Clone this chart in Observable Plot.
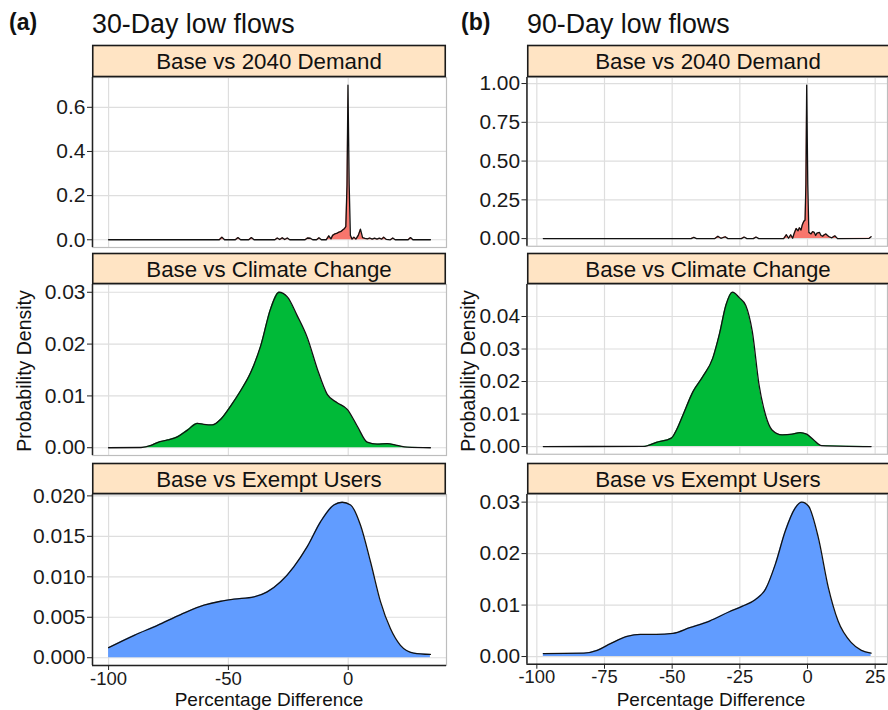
<!DOCTYPE html>
<html>
<head>
<meta charset="utf-8">
<script src="https://cdn.jsdelivr.net/npm/d3@7"></script>
<script src="https://cdn.jsdelivr.net/npm/@observablehq/plot@0.6"></script>
<style>
  html, body { margin: 0; padding: 0; background: #fff; overflow: hidden; }
  #root { position: relative; width: 888px; height: 710px; overflow: hidden; background: #fff;
          font-family: "Liberation Sans", Arial, Helvetica, sans-serif; }
  #root > div.facet { position: absolute; }
  #overlay { position: absolute; left: 0; top: 0; pointer-events: none; }
</style>
</head>
<body>
<div id="root"></div>
<script>
// ---------- data ----------
const panelLetters = ["(a)", "(b)"];
const panelTitles = ["30-Day low flows", "90-Day low flows"];
const facetLabels = ["Base vs 2040 Demand", "Base vs Climate Change", "Base vs Exempt Users"];
const yAxisTitle = "Probability Density";
const xAxisTitle = "Percentage Difference";

const xTicksA = [-100, -50, 0];
const xTicksB = [-100, -75, -50, -25, 0, 25];

const yTicksA1 = [0, 0.2, 0.4, 0.6];
const yTicksA2 = [0, 0.01, 0.02, 0.03];
const yTicksA3 = [0, 0.005, 0.01, 0.015, 0.02];
const yTicksB1 = [0, 0.25, 0.5, 0.75, 1];
const yTicksB2 = [0, 0.01, 0.02, 0.03, 0.04];
const yTicksB3 = [0, 0.01, 0.02, 0.03];

// 30-day, Base vs 2040 Demand  [percentage difference, density]
const d30Demand = [
  [-100, 0], [-53.8, 0], [-52.7, 0.012], [-51.6, 0], [-47.1, 0], [-46, 0.01], [-44.9, 0],
  [-41.5, 0], [-40.4, 0.01], [-39.3, 0], [-30.6, 0], [-29.6, 0.008], [-28.6, 0.001],
  [-27.5, 0.009], [-26.5, 0.001], [-25.4, 0.008], [-24.4, 0], [-18, 0], [-17, 0.008],
  [-15.8, 0.007], [-14.8, 0], [-13.2, 0], [-12.2, 0.009], [-11.2, 0], [-9.2, 0], [-8.1, 0.018],
  [-7.2, 0.004], [-6.5, 0.02], [-5.5, 0.027], [-4.6, 0.03], [-3.8, 0.035], [-3, 0.038],
  [-2.2, 0.045], [-1.6, 0.05], [-1, 0.06], [-0.5, 0.25], [-0.1, 0.70], [0.4, 0.25], [0.9, 0.02],
  [1.6, 0.003], [2.4, 0.012], [3.2, 0.003], [4.2, 0.02], [5.1, 0.048], [6, 0.01], [7, 0.006],
  [8, 0.004], [9, 0.008], [10, 0.003], [11, 0.007], [12, 0.003], [13, 0.007], [14, 0.003],
  [14.8, 0.012], [15.8, 0.002], [17.6, 0], [18.6, 0.008], [19.6, 0], [25, 0], [26, 0.01],
  [27, 0], [34.3, 0]
];
// 30-day, Base vs Climate Change
const d30Climate = [
  [-100, 0], [-86.5, 0.00004], [-82.3, 0.00045], [-79.6, 0.001], [-75.4, 0.0015], [-71.3, 0.0021],
  [-67.1, 0.0034], [-62.9, 0.0047], [-60.2, 0.0045], [-56.7, 0.0044], [-53.2, 0.0055],
  [-49, 0.0081], [-44.9, 0.011], [-40.7, 0.0145], [-36.5, 0.0197], [-32.4, 0.0268],
  [-28.9, 0.0300], [-25.4, 0.0291], [-21.3, 0.0255], [-17.1, 0.0213], [-12.9, 0.0152],
  [-8.75, 0.0103], [-4.6, 0.0087], [-0.4, 0.0074], [3.75, 0.0042], [7.9, 0.0011],
  [12.1, 0.0007], [16.25, 0.0008], [20.4, 0.00045], [24.6, 0.0001], [34.3, 0]
];
// 30-day, Base vs Exempt Users
const d30Exempt = [
  [-100, 0.00124], [-89.3, 0.00277], [-79.6, 0.004], [-69.9, 0.00533], [-60.2, 0.00649],
  [-53.2, 0.00698], [-47.7, 0.00723], [-39.3, 0.00752], [-33.8, 0.00814], [-28.2, 0.00938],
  [-22.7, 0.01124], [-17.1, 0.01372], [-11.5, 0.01682], [-6, 0.01888], [-2.5, 0.01921],
  [1, 0.01888], [5.1, 0.0164], [9.3, 0.01186], [13.5, 0.0069], [17.6, 0.0036],
  [21.8, 0.00153], [27.3, 0.00058], [34.3, 0.00041]
];
// 90-day, Base vs 2040 Demand
const d90Demand = [
  [-97.6, 0], [-43, 0], [-42, 0.008], [-41, 0], [-34.2, 0], [-33.1, 0.015], [-32, 0.002],
  [-30.4, 0.012], [-29.4, 0], [-24.4, 0], [-23.4, 0.01], [-22.4, 0], [-20, 0], [-19, 0.01],
  [-18, 0], [-8.8, 0], [-7.8, 0.025], [-7, 0.002], [-6.2, 0.025], [-5.5, 0.002], [-4.8, 0.04],
  [-4.2, 0.065], [-3.5, 0.05], [-3, 0.07], [-2.4, 0.055], [-1.9, 0.09], [-1.4, 0.11],
  [-0.9, 0.12], [-0.6, 0.35], [-0.3, 0.99], [0.1, 0.35], [0.5, 0.04], [1.3, 0.03], [1.9, 0.045],
  [2.5, 0.04], [3.0, 0.02], [3.5, 0.035], [4.4, 0.04], [5.0, 0.02], [5.6, 0.015], [6.2, 0.025],
  [6.8, 0.03], [7.4, 0.02], [8, 0.012], [9, 0.005], [10.1, 0.018], [11.1, 0], [22.8, 0.002],
  [23.5, 0.012]
];
// 90-day, Base vs Climate Change
const d90Climate = [
  [-97.6, 0], [-60.6, 0.00003], [-55.8, 0.0013], [-50.3, 0.0026], [-48.4, 0.0051], [-46, 0.0097],
  [-42.3, 0.0169], [-38.7, 0.0215], [-35, 0.0272], [-32.6, 0.0344], [-30.1, 0.0436],
  [-27.7, 0.0475], [-25.2, 0.0458], [-22.8, 0.0434], [-20.4, 0.0354], [-17.9, 0.019],
  [-15.5, 0.0097], [-13.1, 0.0051], [-9.4, 0.0036], [-5.7, 0.0038], [-2.7, 0.0043],
  [-0.3, 0.0038], [2.2, 0.0021], [5.2, 0.0003], [23.5, 0]
];
// 90-day, Base vs Exempt Users
const d90Exempt = [
  [-97.6, 0.00058], [-82.6, 0.00065], [-77.7, 0.0012], [-72.8, 0.0025], [-66.7, 0.0039],
  [-61.8, 0.0043], [-55.8, 0.0043], [-49.7, 0.0045], [-43.5, 0.0056], [-36.2, 0.0069],
  [-28.9, 0.0087], [-24, 0.0098], [-19.2, 0.0111], [-15.5, 0.0131], [-11.9, 0.0179],
  [-8.2, 0.0244], [-4.5, 0.0289], [-2.1, 0.0300], [0.4, 0.0292], [4, 0.0231], [7.7, 0.0134],
  [11.3, 0.0069], [16.2, 0.0027], [19.9, 0.0012], [23.5, 0.00065]
];

const fills = ["#F8766D", "#00BA38", "#619CFF"];

// ---------- layout ----------
const FONT = '"Liberation Sans", Arial, Helvetica, sans-serif';
const rows = [ {top: 77, h: 170, stripTop: 45.5}, {top: 284, h: 171, stripTop: 253.5}, {top: 494, h: 171, stripTop: 463.5} ];
const panels = [
  {left: 0, mL: 92, xTicks: xTicksA, series: [d30Demand, d30Climate, d30Exempt], yTicks: [yTicksA1, yTicksA2, yTicksA3],
   fmt: [d3.format(".1f"), d3.format(".2f"), d3.format(".3f")]},
  {left: 444, mL: 83, xTicks: xTicksB, series: [d90Demand, d90Climate, d90Exempt], yTicks: [yTicksB1, yTicksB2, yTicksB3],
   fmt: [d3.format(".2f"), d3.format(".2f"), d3.format(".2f")]}
];
const SVG_W = 447;
const padTop = 12;

function expand(lo, hi) { const d = (hi - lo) * 0.05; return [lo - d, hi + d]; }

const root = document.getElementById("root");

panels.forEach((p, pi) => {
  const allX = p.series.flat().map(d => d[0]);
  const xDomain = expand(d3.min(allX), d3.max(allX));
  p.series.forEach((s, ri) => {
    const r = rows[ri];
    const bottom = ri === 2;
    const padBottom = bottom ? 26 : 4;
    const data = s.map(([x, y]) => ({x, y}));
    const yDomain = expand(0, d3.max(data, d => d.y));
    const curve = ri === 0 ? "linear" : "monotone-x";
    const fmtX = d => String(d);
    const chart = Plot.plot({
      width: SVG_W,
      height: r.h + padTop + padBottom,
      marginLeft: p.mL, marginRight: 1, marginTop: padTop, marginBottom: padBottom,
      style: {fontFamily: FONT, fontSize: "21px", color: "#1a1a1a", background: "transparent", overflow: "visible"},
      x: {domain: xDomain, axis: null},
      y: {domain: yDomain, axis: null},
      marks: [
        Plot.gridX(p.xTicks, {stroke: "#dedede", strokeOpacity: 1, strokeWidth: 1.2}),
        Plot.gridY(p.yTicks[ri], {stroke: "#dedede", strokeOpacity: 1, strokeWidth: 1.2}),
        Plot.frame({stroke: "#bdbdbd", strokeWidth: 1.2}),
        Plot.areaY(data, {x: "x", y: "y", fill: fills[ri], curve}),
        Plot.lineY(data, {x: "x", y: "y", stroke: "#111", strokeWidth: 1.3, curve}),
        Plot.axisY(p.yTicks[ri], {tickFormat: p.fmt[ri], tickSize: 5, tickPadding: 2, fontSize: 21, label: null, stroke: "#222"}),
        bottom ? Plot.axisX(p.xTicks, {tickFormat: fmtX, tickSize: 5, tickPadding: 1, fontSize: 18.5, label: null, stroke: "#222"}) : null,
        Plot.ruleX([xDomain[0]], {stroke: "#222", strokeWidth: 1.5}),
        bottom ? Plot.ruleY([yDomain[0]], {stroke: "#222", strokeWidth: 1.5}) : null
      ]
    });
    const wrap = document.createElement("div");
    wrap.className = "facet";
    wrap.style.left = p.left + "px";
    wrap.style.top = (r.top - padTop) + "px";
    wrap.appendChild(chart);
    root.appendChild(wrap);
  });
});

// ---------- overlay: titles, strips, axis titles ----------
const ov = d3.select(root).append("svg").attr("id", "overlay")
  .attr("width", 888).attr("height", 710).style("font-family", FONT);

const stripX = [[92, 446], [527, 890]];
panels.forEach((p, pi) => {
  const [x0, x1] = stripX[pi];
  ov.append("text").attr("x", pi === 0 ? 9 : 461).attr("y", 30)
    .attr("font-size", 23).attr("font-weight", "bold").attr("fill", "#111").text(panelLetters[pi]);
  ov.append("text").attr("x", x0).attr("y", 33)
    .attr("font-size", 26.8).attr("fill", "#111").text(panelTitles[pi]);
  rows.forEach((r, ri) => {
    ov.append("rect").attr("x", x0 + 0.75).attr("y", r.stripTop).attr("width", x1 - x0 - 1.5)
      .attr("height", r.top - r.stripTop - 0.5)
      .attr("fill", "#FFE4C4").attr("stroke", "#1a1a1a").attr("stroke-width", 1.6);
    ov.append("text").attr("x", pi === 0 ? 269 : 708).attr("y", r.stripTop + (r.top - r.stripTop) / 2 + 7.8)
      .attr("text-anchor", "middle").attr("font-size", 22.3).attr("fill", "#111").text(facetLabels[ri]);
  });
  const yt = pi === 0 ? 31 : 475;
  ov.append("text").attr("transform", `translate(${yt},371) rotate(-90)`)
    .attr("text-anchor", "middle").attr("font-size", 19.5).attr("fill", "#111").text(yAxisTitle);
  ov.append("text").attr("x", pi === 0 ? 269 : 711).attr("y", 705.5)
    .attr("text-anchor", "middle").attr("font-size", 19).attr("fill", "#111").text(xAxisTitle);
});
</script>
</body>
</html>
